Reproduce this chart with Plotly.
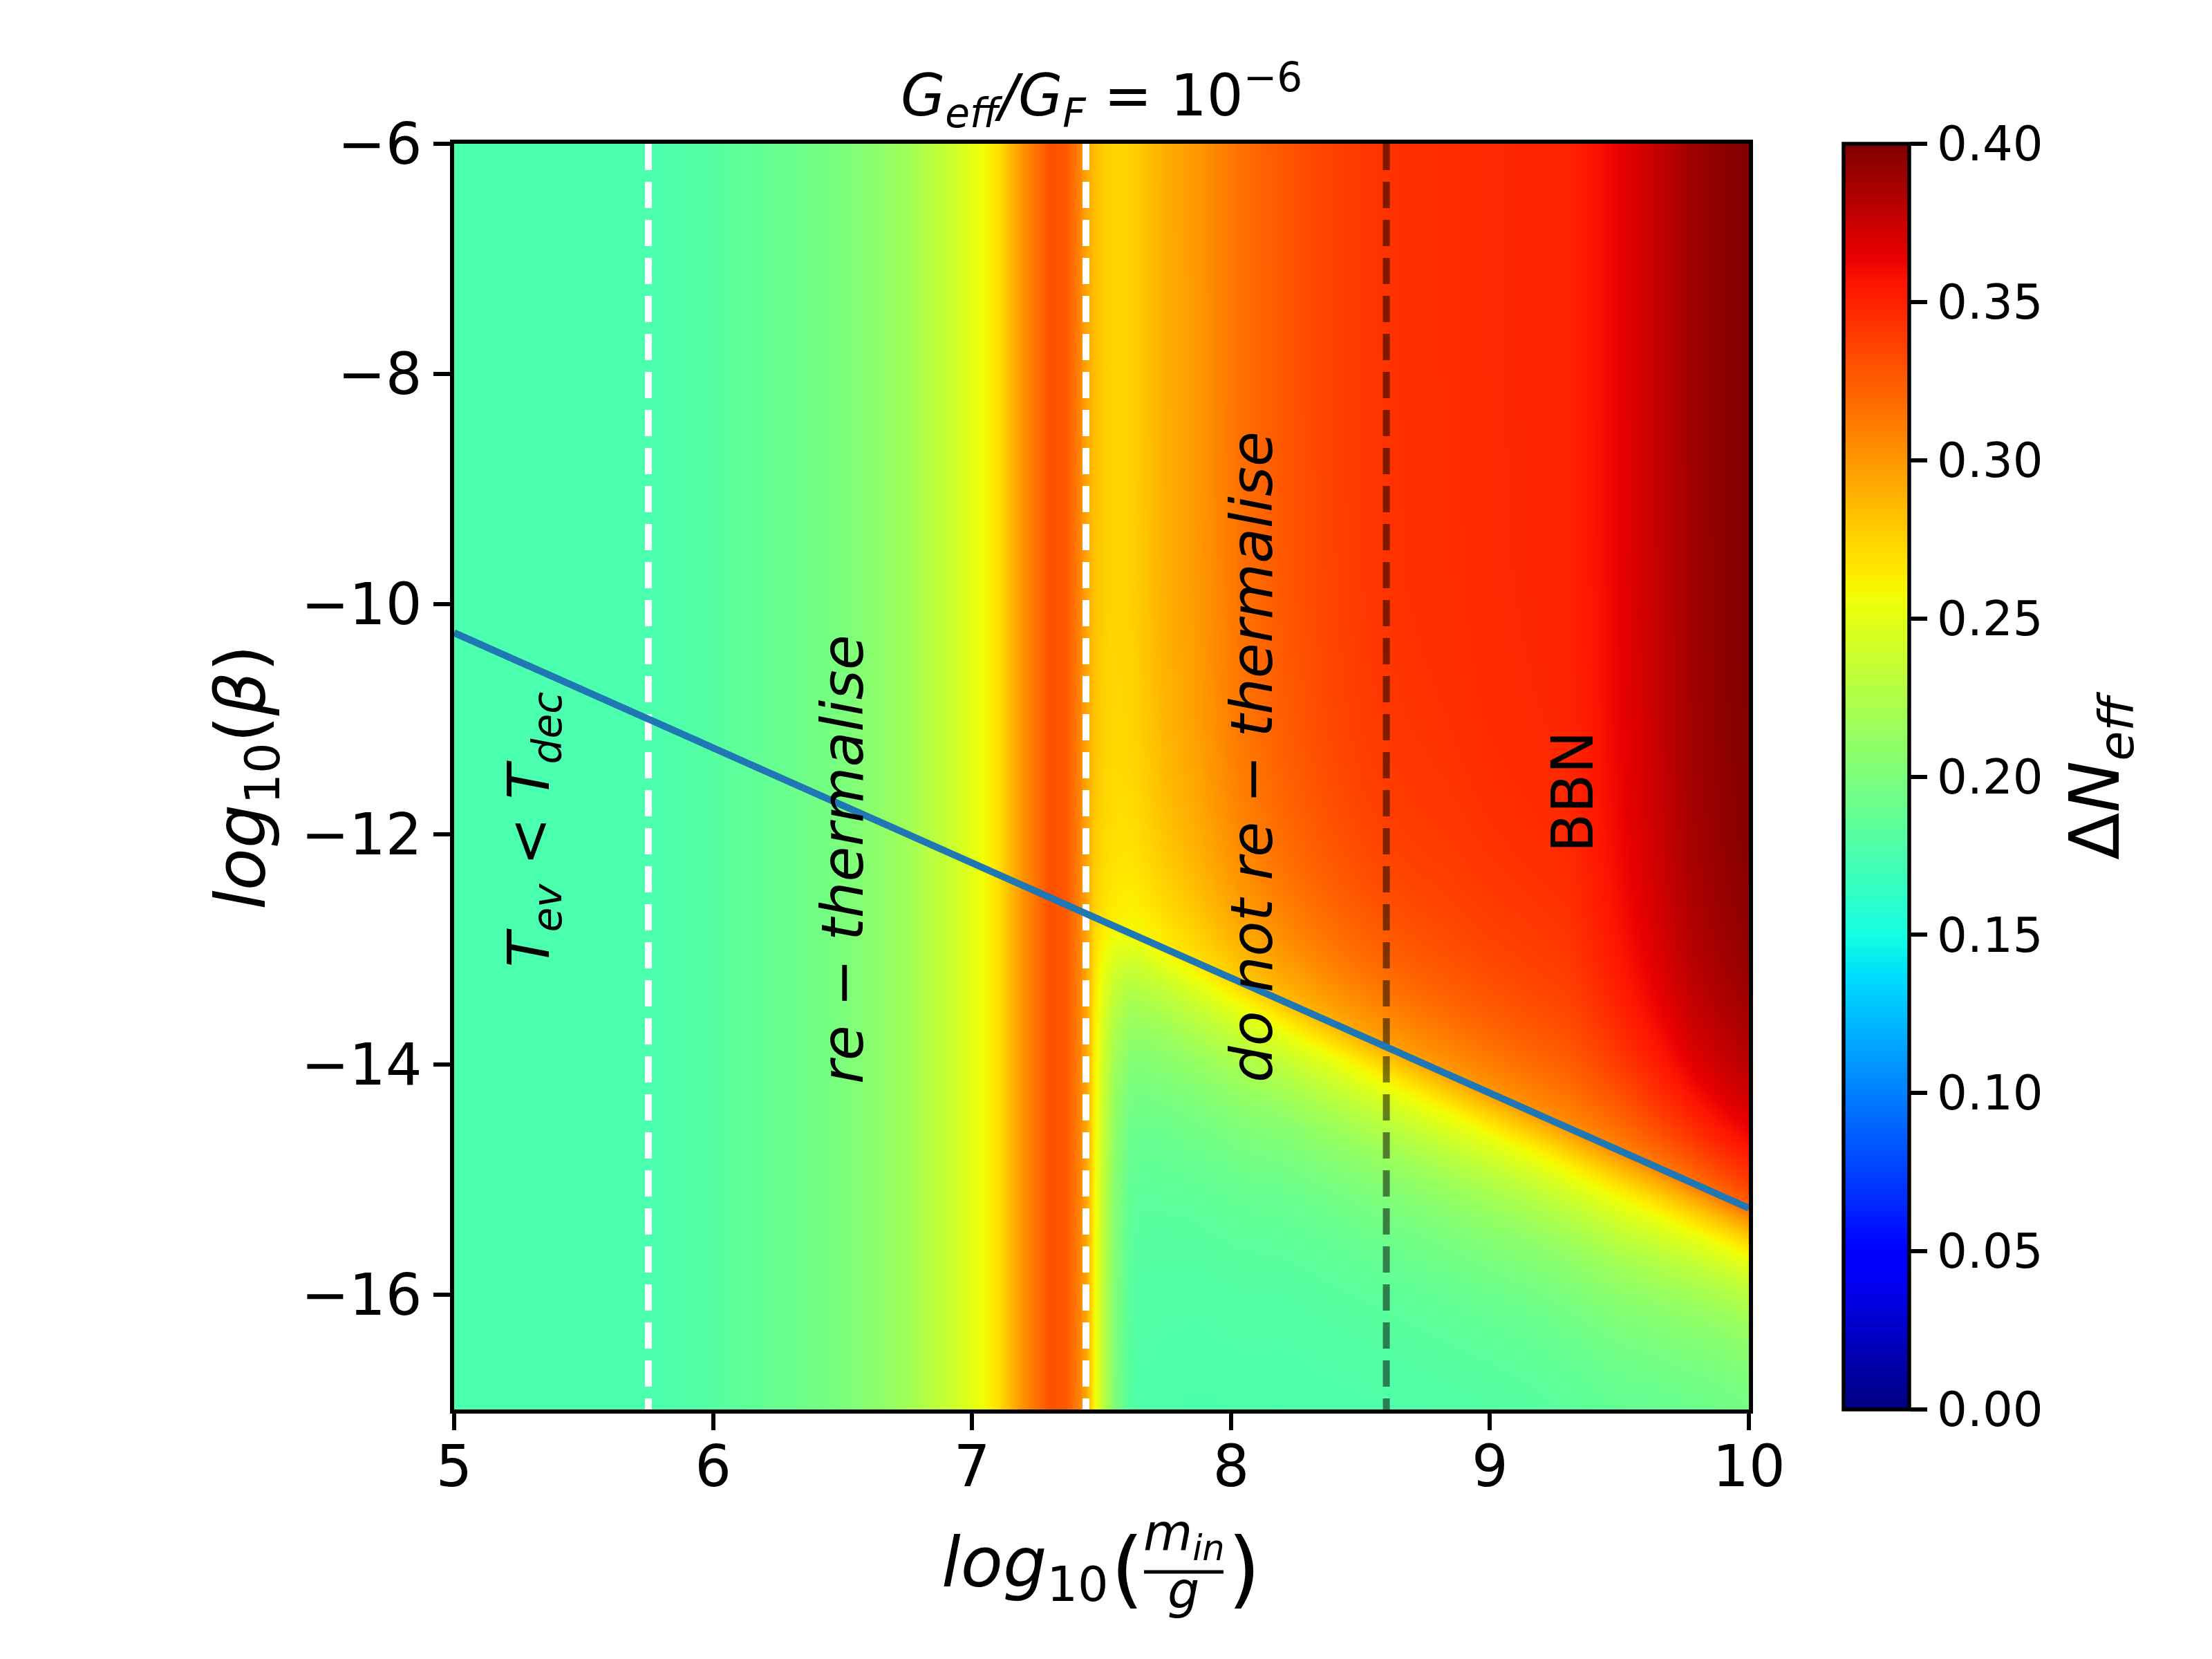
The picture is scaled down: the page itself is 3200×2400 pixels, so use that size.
import numpy as np
import plotly.graph_objects as go

# ---------------- data ----------------
# x positions (log10(m_in/g)) where the colour field was sampled
x_knots = [5.00, 5.75, 5.96, 6.12, 6.28, 6.43, 6.59, 6.75, 6.91, 7.04, 7.10, 7.20, 7.30, 7.36, 7.41, 7.44,
           7.47, 7.50, 7.55, 7.61, 7.65, 7.74, 7.87, 8.03, 8.19, 8.35, 8.51, 8.67, 8.83, 8.99, 9.15, 9.30,
           9.40, 9.50, 9.62, 9.78, 9.90, 10.00]
# Delta N_eff along the top edge (log10 beta = -6)
dneff_top = [0.176, 0.176, 0.180, 0.186, 0.191, 0.196, 0.205, 0.218, 0.237, 0.256, 0.269, 0.303, 0.330, 0.327, 0.310, 0.295,
             0.283, 0.278, 0.274, 0.276, 0.280, 0.290, 0.300, 0.316, 0.327, 0.335, 0.341, 0.344, 0.345, 0.347, 0.348, 0.349,
             0.356, 0.364, 0.374, 0.389, 0.396, 0.400]
# Delta N_eff on the blue boundary line
dneff_line = [0.176, 0.176, 0.180, 0.186, 0.191, 0.196, 0.205, 0.218, 0.237, 0.256, 0.269, 0.303, 0.330, 0.327, 0.310, 0.295,
              0.275, 0.268, 0.262, 0.258, 0.258, 0.262, 0.268, 0.276, 0.283, 0.288, 0.292, 0.295, 0.297, 0.299, 0.301, 0.303,
              0.305, 0.307, 0.310, 0.314, 0.318, 0.320]
# Delta N_eff along the bottom edge (log10 beta = -17)
dneff_bottom = [0.176, 0.176, 0.180, 0.186, 0.191, 0.196, 0.205, 0.218, 0.237, 0.256, 0.269, 0.303, 0.330, 0.327, 0.310, 0.295,
                0.262, 0.235, 0.200, 0.180, 0.177, 0.176, 0.175, 0.175, 0.175, 0.175, 0.175, 0.175, 0.175, 0.175, 0.176, 0.177,
                0.178, 0.179, 0.180, 0.182, 0.184, 0.186]
# how far (in log10 beta) the field takes to relax above / below the boundary line
relax_above = [0.9] * 38
relax_below = [0.9] * 16 + [0.95, 0.95, 0.95, 0.95, 0.95, 0.95, 0.95, 0.95, 0.88, 0.88, 0.88, 0.88, 0.88, 0.88, 0.85, 0.85,
                            0.85, 0.85, 0.80, 0.75, 0.70, 0.68]

# boundary (blue) line
line_x = [5.0, 10.0]
line_y = [-10.25, -15.25]
# vertical threshold lines
retherm_x = [5.75, 7.44]   # white dashed
bbn_x = [8.6]              # dark dashed

x_ticks = [5, 6, 7, 8, 9, 10]
y_ticks = [-16, -14, -12, -10, -8, -6]
cbar_ticks = [0.00, 0.05, 0.10, 0.15, 0.20, 0.25, 0.30, 0.35, 0.40]

# ---------------- build the grid ----------------
xg = np.linspace(5, 10, 501)
yg = np.linspace(-17, -6, 441)
top = np.interp(xg, x_knots, dneff_top)
lin = np.interp(xg, x_knots, dneff_line)
bot = np.interp(xg, x_knots, dneff_bottom)
wa = np.interp(xg, x_knots, relax_above)
wb = np.interp(xg, x_knots, relax_below)
yl = np.interp(xg, line_x, line_y)
D = yg[:, None] - yl[None, :]
above = lin + (top - lin) * (1 - np.exp(-np.clip(D, 0, None) / wa))
below = bot + (lin - bot) * np.exp(np.clip(D, None, 0) / wb)
z = np.round(np.where(D >= 0, above, below), 4)

# matplotlib 'jet'
jet = [[0.0, 'rgb(0,0,128)'], [0.11, 'rgb(0,0,255)'], [0.125, 'rgb(0,0,255)'], [0.34, 'rgb(0,219,255)'],
       [0.35, 'rgb(0,230,247)'], [0.375, 'rgb(21,255,226)'], [0.64, 'rgb(239,255,8)'], [0.65, 'rgb(247,246,0)'],
       [0.66, 'rgb(255,236,0)'], [0.89, 'rgb(255,19,0)'], [0.91, 'rgb(232,0,0)'], [1.0, 'rgb(128,0,0)']]

FONT = 'DejaVu Sans'
W, H = 3200, 2400
L, R, T, B = 649, 2522, 200, 2031
PW, PH = R - L, B - T


def px(xp):
    return (xp - L) / PW


def py(yp):
    return (B - yp) / PH


fig = go.Figure()
fig.add_trace(go.Heatmap(
    x=xg, y=yg, z=z, zmin=0, zmax=0.4, colorscale=jet, zsmooth='best', hoverinfo='skip',
    colorbar=dict(thickness=95, thicknessmode='pixels', len=1, lenmode='fraction',
                  x=px(2659), xanchor='left', xpad=0, y=0.5, yanchor='middle', ypad=0,
                  outlinewidth=5.5, outlinecolor='black', ticks='outside', ticklen=24, tickwidth=5.5,
                  tickcolor='black', tickvals=cbar_ticks, tickformat='.2f',
                  tickfont=dict(family=FONT, size=69, color='black'))))

for xv in retherm_x:
    fig.add_trace(go.Scatter(x=[xv, xv], y=[-6, -17], mode='lines', showlegend=False, hoverinfo='skip',
                             line=dict(color='white', width=10, dash='38px,17px')))
for xv in bbn_x:
    fig.add_trace(go.Scatter(x=[xv, xv], y=[-6, -17], mode='lines', showlegend=False, hoverinfo='skip',
                             line=dict(color='rgba(0,0,0,0.5)', width=10, dash='38px,17px')))
fig.add_trace(go.Scatter(x=line_x, y=line_y, mode='lines', showlegend=False, hoverinfo='skip',
                         line=dict(color='#1f77b4', width=10)))

axis_common = dict(showline=True, mirror=True, linecolor='black', linewidth=5.5, ticks='outside',
                   ticklen=24, tickwidth=5.5, tickcolor='black', showgrid=False, zeroline=False,
                   tickfont=dict(family=FONT, size=83, color='black'))
fig.update_xaxes(range=[5, 10], tickvals=x_ticks, ticklabelstandoff=-18, **axis_common)
fig.update_yaxes(range=[-17, -6], tickvals=y_ticks, **axis_common)

ann = []
def A(text, x, y, size, xref='paper', yref='paper', angle=0, xanchor='center', yanchor='middle'):
    ann.append(dict(text=text, x=x, y=y, xref=xref, yref=yref, showarrow=False, textangle=angle,
                    xanchor=xanchor, yanchor=yanchor, font=dict(family=FONT, size=size, color='black')))

# title
A('<i>G</i><sub><i>eff</i></sub><i>/G</i><sub><i>F</i></sub> = 10<sup>−6</sup>', 0.5, py(130), 83)
# y label
A('<i>log</i><sub>10</sub>(<i>β</i>)', px(347), py(1117), 100, angle=-90)
# colorbar label
A('Δ<i>N</i><sub><i>eff</i></sub>', px(3029), py(1114), 100, angle=-90)
# x label built as log10( m_in / g )
A('<i>log</i><sub>10</sub>', px(1598), py(2259), 100, xanchor='right')
A('(', px(1623), py(2261), 122)
A(')', px(1792), py(2261), 122)
A('<i>m</i><sub><i>in</i></sub>', px(1705), py(2213), 73)
A('<i>g</i>', px(1704), py(2292), 73)
# region labels
A('<i>T</i><sub><i>ev</i></sub> &lt; <i>T</i><sub><i>dec</i></sub>', 5.305, -11.96, 83, 'x', 'y', -90)
A('<i>re − thermalise</i>', 6.50, -12.22, 83, 'x', 'y', -90)
A('<i>do not re − thermalise</i>', 8.08, -11.33, 83, 'x', 'y', -90)
A('BBN', 9.32, -11.63, 83, 'x', 'y', -90)

fig.update_layout(
    width=W, height=H, paper_bgcolor='white', plot_bgcolor='white',
    margin=dict(l=L, r=W - R, t=T, b=H - B, autoexpand=False),
    annotations=ann,
    shapes=[dict(type='line', xref='paper', yref='paper', x0=px(1647), x1=px(1762), y0=py(2266), y1=py(2266),
                 line=dict(color='black', width=5))],
    font=dict(family=FONT, color='black'),
)

fig.write_html('out.html')
